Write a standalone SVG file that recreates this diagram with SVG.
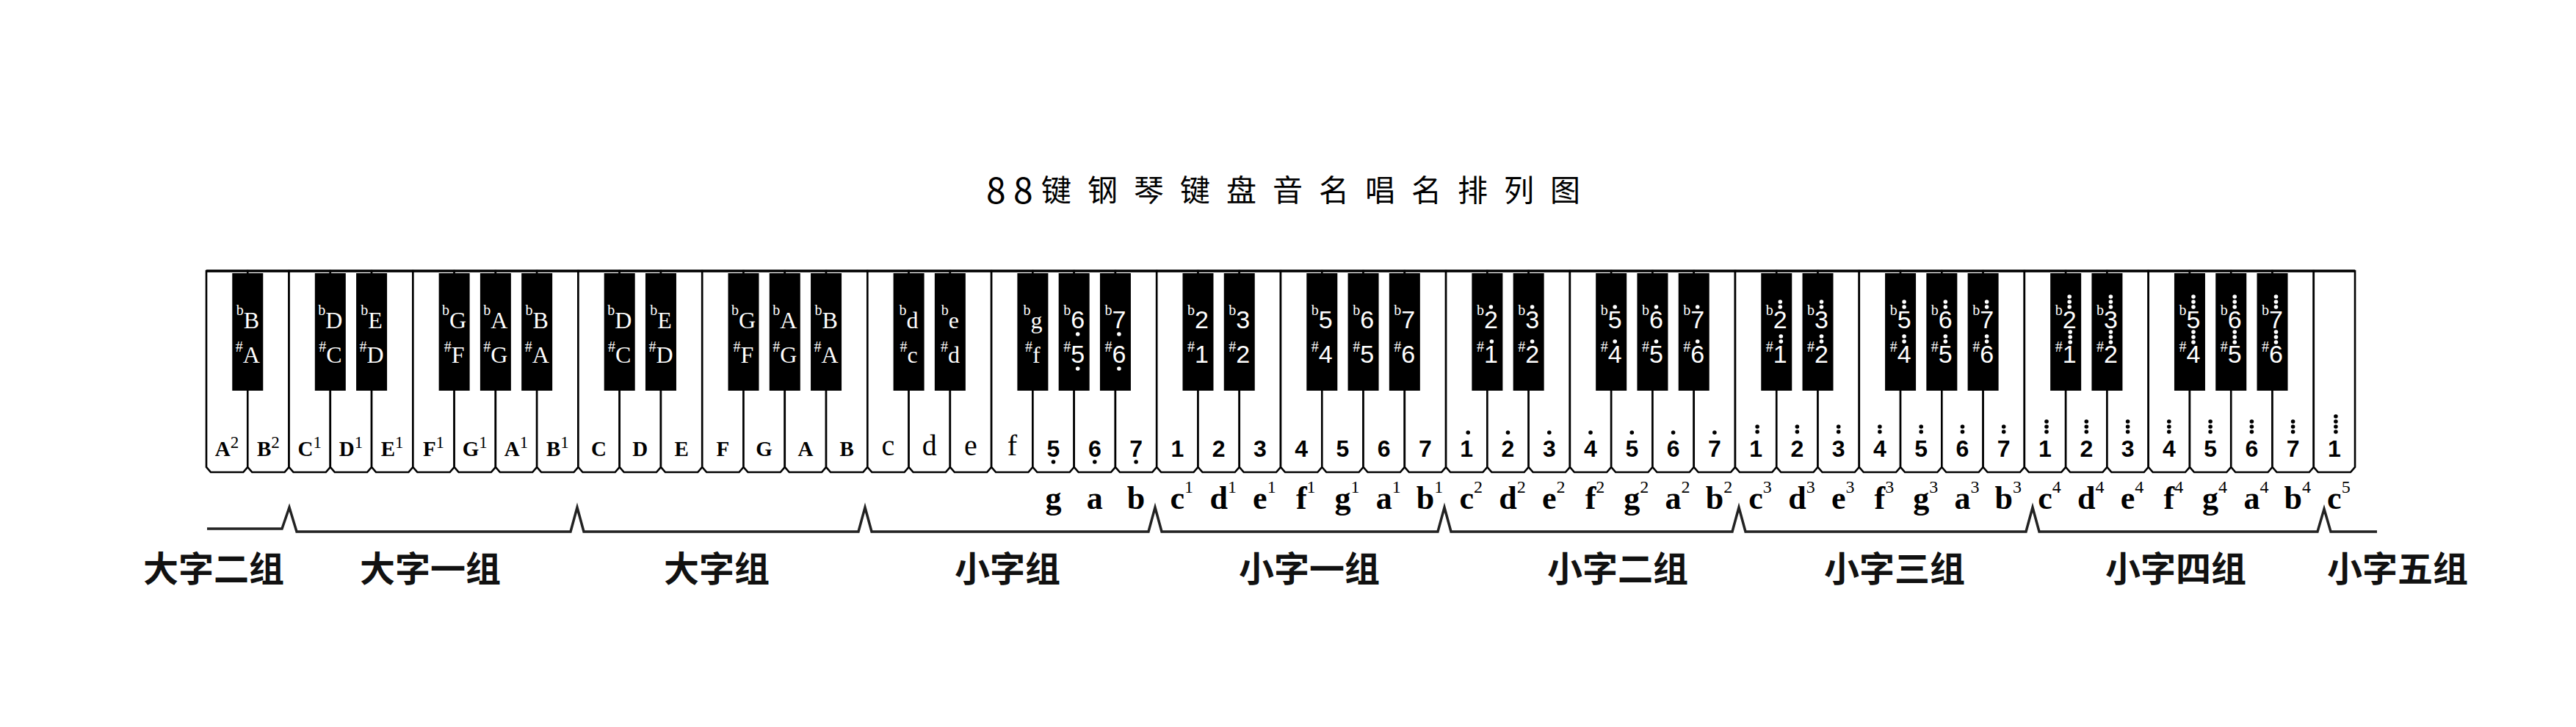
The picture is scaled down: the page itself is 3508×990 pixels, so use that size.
<svg xmlns="http://www.w3.org/2000/svg" xmlns:xlink="http://www.w3.org/1999/xlink" width="3508" height="990" viewBox="0 0 3508 990">
<style>
.wk{fill:#fff;stroke:#000;stroke-width:2.6;stroke-linejoin:miter}
.bk{fill:#000}
.wd{fill:#fff}
.kd{fill:#000}
.up{font-family:"Liberation Serif",serif;font-weight:bold;font-size:29px;text-anchor:middle;fill:#000}
.us{font-weight:normal;font-size:23px}
.lc{font-family:"Liberation Serif",serif;font-size:40px;text-anchor:middle;fill:#000}
.num{font-family:"Liberation Sans",sans-serif;font-weight:bold;font-size:32px;text-anchor:middle;fill:#000}
.bl{font-family:"Liberation Serif",serif;font-size:32px;text-anchor:middle;fill:#fff}
.bn{font-family:"Liberation Sans",sans-serif;font-size:34px;text-anchor:middle;fill:#fff}
.acc{font-family:"Liberation Serif",serif;font-size:20px}
.row{font-family:"Liberation Serif",serif;font-weight:bold;font-size:44px;fill:#000}
.rowm{font-family:"Liberation Serif",serif;font-weight:bold;font-size:44px;fill:#000;text-anchor:middle}
.sup{font-weight:normal;font-size:24px}
.grp{font-family:"Noto Sans CJK SC",sans-serif;font-weight:bold;font-size:48px;text-anchor:middle;fill:#111}
.title{font-family:"Noto Sans CJK SC",sans-serif;font-size:41px;fill:#000}
.br{fill:none;stroke:#222;stroke-width:3.5;stroke-linejoin:miter}
</style>
<defs>
<path id="wk" d="M0 369V636L6 643H50.27L56.27 636V369Z"/>
<rect id="bkr" x="-21" y="372" width="42" height="160"/>
<circle id="dt" r="2.8"/>
</defs>

<g id="title">
<text class="title" y="274"><tspan x="1343" y="277" style="font-size:48px">8</tspan><tspan x="1380" y="277" style="font-size:48px">8</tspan><tspan y="274" x="1418 1481 1544 1607 1670 1733 1796 1859 1922 1985 2048 2111">键钢琴键盘音名唱名排列图</tspan></text>
</g>

<g id="keyboard">
<g id="white-keys">
<use href="#wk" x="281" class="wk"/>
<use href="#wk" x="337.27" class="wk"/>
<use href="#wk" x="393.54" class="wk"/>
<use href="#wk" x="449.81" class="wk"/>
<use href="#wk" x="506.08" class="wk"/>
<use href="#wk" x="562.35" class="wk"/>
<use href="#wk" x="618.62" class="wk"/>
<use href="#wk" x="674.89" class="wk"/>
<use href="#wk" x="731.16" class="wk"/>
<use href="#wk" x="787.43" class="wk"/>
<use href="#wk" x="843.7" class="wk"/>
<use href="#wk" x="899.97" class="wk"/>
<use href="#wk" x="956.24" class="wk"/>
<use href="#wk" x="1012.51" class="wk"/>
<use href="#wk" x="1068.78" class="wk"/>
<use href="#wk" x="1125.05" class="wk"/>
<use href="#wk" x="1181.32" class="wk"/>
<use href="#wk" x="1237.59" class="wk"/>
<use href="#wk" x="1293.86" class="wk"/>
<use href="#wk" x="1350.13" class="wk"/>
<use href="#wk" x="1406.4" class="wk"/>
<use href="#wk" x="1462.67" class="wk"/>
<use href="#wk" x="1518.94" class="wk"/>
<use href="#wk" x="1575.21" class="wk"/>
<use href="#wk" x="1631.48" class="wk"/>
<use href="#wk" x="1687.75" class="wk"/>
<use href="#wk" x="1744.02" class="wk"/>
<use href="#wk" x="1800.29" class="wk"/>
<use href="#wk" x="1856.56" class="wk"/>
<use href="#wk" x="1912.83" class="wk"/>
<use href="#wk" x="1969.1" class="wk"/>
<use href="#wk" x="2025.37" class="wk"/>
<use href="#wk" x="2081.64" class="wk"/>
<use href="#wk" x="2137.91" class="wk"/>
<use href="#wk" x="2194.18" class="wk"/>
<use href="#wk" x="2250.45" class="wk"/>
<use href="#wk" x="2306.72" class="wk"/>
<use href="#wk" x="2362.99" class="wk"/>
<use href="#wk" x="2419.26" class="wk"/>
<use href="#wk" x="2475.53" class="wk"/>
<use href="#wk" x="2531.8" class="wk"/>
<use href="#wk" x="2588.07" class="wk"/>
<use href="#wk" x="2644.34" class="wk"/>
<use href="#wk" x="2700.61" class="wk"/>
<use href="#wk" x="2756.88" class="wk"/>
<use href="#wk" x="2813.15" class="wk"/>
<use href="#wk" x="2869.42" class="wk"/>
<use href="#wk" x="2925.69" class="wk"/>
<use href="#wk" x="2981.96" class="wk"/>
<use href="#wk" x="3038.23" class="wk"/>
<use href="#wk" x="3094.5" class="wk"/>
<use href="#wk" x="3150.77" class="wk"/>
<path d="M281 369H3207" stroke="#000" stroke-width="3.5"/>
</g>

<g id="black-keys">
<use href="#bkr" x="337.27" class="bk"/>
<use href="#bkr" x="449.81" class="bk"/>
<use href="#bkr" x="506.08" class="bk"/>
<use href="#bkr" x="618.62" class="bk"/>
<use href="#bkr" x="674.89" class="bk"/>
<use href="#bkr" x="731.16" class="bk"/>
<use href="#bkr" x="843.7" class="bk"/>
<use href="#bkr" x="899.97" class="bk"/>
<use href="#bkr" x="1012.51" class="bk"/>
<use href="#bkr" x="1068.78" class="bk"/>
<use href="#bkr" x="1125.05" class="bk"/>
<use href="#bkr" x="1237.59" class="bk"/>
<use href="#bkr" x="1293.86" class="bk"/>
<use href="#bkr" x="1406.4" class="bk"/>
<use href="#bkr" x="1462.67" class="bk"/>
<use href="#bkr" x="1518.94" class="bk"/>
<use href="#bkr" x="1631.48" class="bk"/>
<use href="#bkr" x="1687.75" class="bk"/>
<use href="#bkr" x="1800.29" class="bk"/>
<use href="#bkr" x="1856.56" class="bk"/>
<use href="#bkr" x="1912.83" class="bk"/>
<use href="#bkr" x="2025.37" class="bk"/>
<use href="#bkr" x="2081.64" class="bk"/>
<use href="#bkr" x="2194.18" class="bk"/>
<use href="#bkr" x="2250.45" class="bk"/>
<use href="#bkr" x="2306.72" class="bk"/>
<use href="#bkr" x="2419.26" class="bk"/>
<use href="#bkr" x="2475.53" class="bk"/>
<use href="#bkr" x="2588.07" class="bk"/>
<use href="#bkr" x="2644.34" class="bk"/>
<use href="#bkr" x="2700.61" class="bk"/>
<use href="#bkr" x="2813.15" class="bk"/>
<use href="#bkr" x="2869.42" class="bk"/>
<use href="#bkr" x="2981.96" class="bk"/>
<use href="#bkr" x="3038.23" class="bk"/>
<use href="#bkr" x="3094.5" class="bk"/>
</g>
</g>

<g id="white-key-labels">
<text class="up" x="309.1" y="621">A<tspan class="us" dy="-11">2</tspan></text>
<text class="up" x="365.4" y="621">B<tspan class="us" dy="-11">2</tspan></text>
<text class="up" x="421.7" y="621">C<tspan class="us" dy="-11">1</tspan></text>
<text class="up" x="477.9" y="621">D<tspan class="us" dy="-11">1</tspan></text>
<text class="up" x="534.2" y="621">E<tspan class="us" dy="-11">1</tspan></text>
<text class="up" x="590.5" y="621">F<tspan class="us" dy="-11">1</tspan></text>
<text class="up" x="646.8" y="621">G<tspan class="us" dy="-11">1</tspan></text>
<text class="up" x="703" y="621">A<tspan class="us" dy="-11">1</tspan></text>
<text class="up" x="759.3" y="621">B<tspan class="us" dy="-11">1</tspan></text>
<text class="up" x="815.6" y="621">C</text>
<text class="up" x="871.8" y="621">D</text>
<text class="up" x="928.1" y="621">E</text>
<text class="up" x="984.4" y="621">F</text>
<text class="up" x="1040.6" y="621">G</text>
<text class="up" x="1096.9" y="621">A</text>
<text class="up" x="1153.2" y="621">B</text>
<text class="lc" x="1209.5" y="620">c</text>
<text class="lc" x="1265.7" y="620">d</text>
<text class="lc" x="1322" y="620">e</text>
<text class="lc" x="1378.3" y="620">f</text>
<text class="num" x="1434.5" y="622">5</text>
<text class="num" x="1490.8" y="622">6</text>
<text class="num" x="1547.1" y="622">7</text>
<text class="num" x="1603.3" y="622">1</text>
<text class="num" x="1659.6" y="622">2</text>
<text class="num" x="1715.9" y="622">3</text>
<text class="num" x="1772.2" y="622">4</text>
<text class="num" x="1828.4" y="622">5</text>
<text class="num" x="1884.7" y="622">6</text>
<text class="num" x="1941" y="622">7</text>
<text class="num" x="1997.2" y="622">1</text>
<text class="num" x="2053.5" y="622">2</text>
<text class="num" x="2109.8" y="622">3</text>
<text class="num" x="2166" y="622">4</text>
<text class="num" x="2222.3" y="622">5</text>
<text class="num" x="2278.6" y="622">6</text>
<text class="num" x="2334.9" y="622">7</text>
<text class="num" x="2391.1" y="622">1</text>
<text class="num" x="2447.4" y="622">2</text>
<text class="num" x="2503.7" y="622">3</text>
<text class="num" x="2559.9" y="622">4</text>
<text class="num" x="2616.2" y="622">5</text>
<text class="num" x="2672.5" y="622">6</text>
<text class="num" x="2728.7" y="622">7</text>
<text class="num" x="2785" y="622">1</text>
<text class="num" x="2841.3" y="622">2</text>
<text class="num" x="2897.6" y="622">3</text>
<text class="num" x="2953.8" y="622">4</text>
<text class="num" x="3010.1" y="622">5</text>
<text class="num" x="3066.4" y="622">6</text>
<text class="num" x="3122.6" y="622">7</text>
<text class="num" x="3178.9" y="622">1</text>
</g>

<g id="white-key-dots" class="kd">
<use href="#dt" x="1434.5" y="629"/><use href="#dt" x="1490.8" y="629"/><use href="#dt" x="1547.1" y="629"/>
<use href="#dt" x="1999.2" y="589"/><use href="#dt" x="2053.5" y="589"/><use href="#dt" x="2109.8" y="589"/><use href="#dt" x="2166" y="589"/><use href="#dt" x="2222.3" y="589"/><use href="#dt" x="2278.6" y="589"/><use href="#dt" x="2334.9" y="589"/>
<use href="#dt" x="2393.1" y="581"/><use href="#dt" x="2393.1" y="588"/>
<use href="#dt" x="2447.4" y="581"/><use href="#dt" x="2447.4" y="588"/>
<use href="#dt" x="2503.7" y="581"/><use href="#dt" x="2503.7" y="588"/>
<use href="#dt" x="2559.9" y="581"/><use href="#dt" x="2559.9" y="588"/>
<use href="#dt" x="2616.2" y="581"/><use href="#dt" x="2616.2" y="588"/>
<use href="#dt" x="2672.5" y="581"/><use href="#dt" x="2672.5" y="588"/>
<use href="#dt" x="2728.7" y="581"/><use href="#dt" x="2728.7" y="588"/>
<use href="#dt" x="2787" y="574"/><use href="#dt" x="2787" y="581"/><use href="#dt" x="2787" y="588"/>
<use href="#dt" x="2841.3" y="574"/><use href="#dt" x="2841.3" y="581"/><use href="#dt" x="2841.3" y="588"/>
<use href="#dt" x="2897.6" y="574"/><use href="#dt" x="2897.6" y="581"/><use href="#dt" x="2897.6" y="588"/>
<use href="#dt" x="2953.8" y="574"/><use href="#dt" x="2953.8" y="581"/><use href="#dt" x="2953.8" y="588"/>
<use href="#dt" x="3010.1" y="574"/><use href="#dt" x="3010.1" y="581"/><use href="#dt" x="3010.1" y="588"/>
<use href="#dt" x="3066.4" y="574"/><use href="#dt" x="3066.4" y="581"/><use href="#dt" x="3066.4" y="588"/>
<use href="#dt" x="3122.6" y="574"/><use href="#dt" x="3122.6" y="581"/><use href="#dt" x="3122.6" y="588"/>
<use href="#dt" x="3180.9" y="567"/><use href="#dt" x="3180.9" y="574"/><use href="#dt" x="3180.9" y="581"/><use href="#dt" x="3180.9" y="588"/>
</g>

<g id="black-key-labels">
<text class="bl" x="337.3" y="447"><tspan class="acc" dy="-18">b</tspan><tspan dy="18">B</tspan></text>
<text class="bl" x="337.3" y="494"><tspan class="acc" dy="-15">#</tspan><tspan dy="15">A</tspan></text>
<text class="bl" x="449.8" y="447"><tspan class="acc" dy="-18">b</tspan><tspan dy="18">D</tspan></text>
<text class="bl" x="449.8" y="494"><tspan class="acc" dy="-15">#</tspan><tspan dy="15">C</tspan></text>
<text class="bl" x="506.1" y="447"><tspan class="acc" dy="-18">b</tspan><tspan dy="18">E</tspan></text>
<text class="bl" x="506.1" y="494"><tspan class="acc" dy="-15">#</tspan><tspan dy="15">D</tspan></text>
<text class="bl" x="618.6" y="447"><tspan class="acc" dy="-18">b</tspan><tspan dy="18">G</tspan></text>
<text class="bl" x="618.6" y="494"><tspan class="acc" dy="-15">#</tspan><tspan dy="15">F</tspan></text>
<text class="bl" x="674.9" y="447"><tspan class="acc" dy="-18">b</tspan><tspan dy="18">A</tspan></text>
<text class="bl" x="674.9" y="494"><tspan class="acc" dy="-15">#</tspan><tspan dy="15">G</tspan></text>
<text class="bl" x="731.2" y="447"><tspan class="acc" dy="-18">b</tspan><tspan dy="18">B</tspan></text>
<text class="bl" x="731.2" y="494"><tspan class="acc" dy="-15">#</tspan><tspan dy="15">A</tspan></text>
<text class="bl" x="843.7" y="447"><tspan class="acc" dy="-18">b</tspan><tspan dy="18">D</tspan></text>
<text class="bl" x="843.7" y="494"><tspan class="acc" dy="-15">#</tspan><tspan dy="15">C</tspan></text>
<text class="bl" x="900" y="447"><tspan class="acc" dy="-18">b</tspan><tspan dy="18">E</tspan></text>
<text class="bl" x="900" y="494"><tspan class="acc" dy="-15">#</tspan><tspan dy="15">D</tspan></text>
<text class="bl" x="1012.5" y="447"><tspan class="acc" dy="-18">b</tspan><tspan dy="18">G</tspan></text>
<text class="bl" x="1012.5" y="494"><tspan class="acc" dy="-15">#</tspan><tspan dy="15">F</tspan></text>
<text class="bl" x="1068.8" y="447"><tspan class="acc" dy="-18">b</tspan><tspan dy="18">A</tspan></text>
<text class="bl" x="1068.8" y="494"><tspan class="acc" dy="-15">#</tspan><tspan dy="15">G</tspan></text>
<text class="bl" x="1125.1" y="447"><tspan class="acc" dy="-18">b</tspan><tspan dy="18">B</tspan></text>
<text class="bl" x="1125.1" y="494"><tspan class="acc" dy="-15">#</tspan><tspan dy="15">A</tspan></text>
<text class="bl" x="1237.6" y="447"><tspan class="acc" dy="-18">b</tspan><tspan dy="18">d</tspan></text>
<text class="bl" x="1237.6" y="494"><tspan class="acc" dy="-15">#</tspan><tspan dy="15">c</tspan></text>
<text class="bl" x="1293.9" y="447"><tspan class="acc" dy="-18">b</tspan><tspan dy="18">e</tspan></text>
<text class="bl" x="1293.9" y="494"><tspan class="acc" dy="-15">#</tspan><tspan dy="15">d</tspan></text>
<text class="bl" x="1406.4" y="447"><tspan class="acc" dy="-18">b</tspan><tspan dy="18">g</tspan></text>
<text class="bl" x="1406.4" y="494"><tspan class="acc" dy="-15">#</tspan><tspan dy="15">f</tspan></text>
<text class="bn" x="1462.7" y="447"><tspan class="acc" dy="-18">b</tspan><tspan dy="18">6</tspan></text>
<text class="bn" x="1462.7" y="494"><tspan class="acc" dy="-15">#</tspan><tspan dy="15">5</tspan></text>
<text class="bn" x="1518.9" y="447"><tspan class="acc" dy="-18">b</tspan><tspan dy="18">7</tspan></text>
<text class="bn" x="1518.9" y="494"><tspan class="acc" dy="-15">#</tspan><tspan dy="15">6</tspan></text>
<text class="bn" x="1631.5" y="447"><tspan class="acc" dy="-18">b</tspan><tspan dy="18">2</tspan></text>
<text class="bn" x="1631.5" y="494"><tspan class="acc" dy="-15">#</tspan><tspan dy="15">1</tspan></text>
<text class="bn" x="1687.8" y="447"><tspan class="acc" dy="-18">b</tspan><tspan dy="18">3</tspan></text>
<text class="bn" x="1687.8" y="494"><tspan class="acc" dy="-15">#</tspan><tspan dy="15">2</tspan></text>
<text class="bn" x="1800.3" y="447"><tspan class="acc" dy="-18">b</tspan><tspan dy="18">5</tspan></text>
<text class="bn" x="1800.3" y="494"><tspan class="acc" dy="-15">#</tspan><tspan dy="15">4</tspan></text>
<text class="bn" x="1856.6" y="447"><tspan class="acc" dy="-18">b</tspan><tspan dy="18">6</tspan></text>
<text class="bn" x="1856.6" y="494"><tspan class="acc" dy="-15">#</tspan><tspan dy="15">5</tspan></text>
<text class="bn" x="1912.8" y="447"><tspan class="acc" dy="-18">b</tspan><tspan dy="18">7</tspan></text>
<text class="bn" x="1912.8" y="494"><tspan class="acc" dy="-15">#</tspan><tspan dy="15">6</tspan></text>
<text class="bn" x="2025.4" y="447"><tspan class="acc" dy="-18">b</tspan><tspan dy="18">2</tspan></text>
<text class="bn" x="2025.4" y="494"><tspan class="acc" dy="-15">#</tspan><tspan dy="15">1</tspan></text>
<text class="bn" x="2081.6" y="447"><tspan class="acc" dy="-18">b</tspan><tspan dy="18">3</tspan></text>
<text class="bn" x="2081.6" y="494"><tspan class="acc" dy="-15">#</tspan><tspan dy="15">2</tspan></text>
<text class="bn" x="2194.2" y="447"><tspan class="acc" dy="-18">b</tspan><tspan dy="18">5</tspan></text>
<text class="bn" x="2194.2" y="494"><tspan class="acc" dy="-15">#</tspan><tspan dy="15">4</tspan></text>
<text class="bn" x="2250.5" y="447"><tspan class="acc" dy="-18">b</tspan><tspan dy="18">6</tspan></text>
<text class="bn" x="2250.5" y="494"><tspan class="acc" dy="-15">#</tspan><tspan dy="15">5</tspan></text>
<text class="bn" x="2306.7" y="447"><tspan class="acc" dy="-18">b</tspan><tspan dy="18">7</tspan></text>
<text class="bn" x="2306.7" y="494"><tspan class="acc" dy="-15">#</tspan><tspan dy="15">6</tspan></text>
<text class="bn" x="2419.3" y="447"><tspan class="acc" dy="-18">b</tspan><tspan dy="18">2</tspan></text>
<text class="bn" x="2419.3" y="494"><tspan class="acc" dy="-15">#</tspan><tspan dy="15">1</tspan></text>
<text class="bn" x="2475.5" y="447"><tspan class="acc" dy="-18">b</tspan><tspan dy="18">3</tspan></text>
<text class="bn" x="2475.5" y="494"><tspan class="acc" dy="-15">#</tspan><tspan dy="15">2</tspan></text>
<text class="bn" x="2588.1" y="447"><tspan class="acc" dy="-18">b</tspan><tspan dy="18">5</tspan></text>
<text class="bn" x="2588.1" y="494"><tspan class="acc" dy="-15">#</tspan><tspan dy="15">4</tspan></text>
<text class="bn" x="2644.3" y="447"><tspan class="acc" dy="-18">b</tspan><tspan dy="18">6</tspan></text>
<text class="bn" x="2644.3" y="494"><tspan class="acc" dy="-15">#</tspan><tspan dy="15">5</tspan></text>
<text class="bn" x="2700.6" y="447"><tspan class="acc" dy="-18">b</tspan><tspan dy="18">7</tspan></text>
<text class="bn" x="2700.6" y="494"><tspan class="acc" dy="-15">#</tspan><tspan dy="15">6</tspan></text>
<text class="bn" x="2813.2" y="447"><tspan class="acc" dy="-18">b</tspan><tspan dy="18">2</tspan></text>
<text class="bn" x="2813.2" y="494"><tspan class="acc" dy="-15">#</tspan><tspan dy="15">1</tspan></text>
<text class="bn" x="2869.4" y="447"><tspan class="acc" dy="-18">b</tspan><tspan dy="18">3</tspan></text>
<text class="bn" x="2869.4" y="494"><tspan class="acc" dy="-15">#</tspan><tspan dy="15">2</tspan></text>
<text class="bn" x="2982" y="447"><tspan class="acc" dy="-18">b</tspan><tspan dy="18">5</tspan></text>
<text class="bn" x="2982" y="494"><tspan class="acc" dy="-15">#</tspan><tspan dy="15">4</tspan></text>
<text class="bn" x="3038.2" y="447"><tspan class="acc" dy="-18">b</tspan><tspan dy="18">6</tspan></text>
<text class="bn" x="3038.2" y="494"><tspan class="acc" dy="-15">#</tspan><tspan dy="15">5</tspan></text>
<text class="bn" x="3094.5" y="447"><tspan class="acc" dy="-18">b</tspan><tspan dy="18">7</tspan></text>
<text class="bn" x="3094.5" y="494"><tspan class="acc" dy="-15">#</tspan><tspan dy="15">6</tspan></text>
</g>

<g id="black-key-dots" class="wd">
<use href="#dt" x="1467.7" y="455"/><use href="#dt" x="1467.7" y="502"/>
<use href="#dt" x="1523.9" y="455"/><use href="#dt" x="1523.9" y="502"/>
<use href="#dt" x="2030.4" y="418"/><use href="#dt" x="2031.4" y="465"/>
<use href="#dt" x="2086.6" y="418"/><use href="#dt" x="2086.6" y="465"/>
<use href="#dt" x="2199.2" y="418"/><use href="#dt" x="2199.2" y="465"/>
<use href="#dt" x="2255.5" y="418"/><use href="#dt" x="2255.5" y="465"/>
<use href="#dt" x="2311.7" y="418"/><use href="#dt" x="2311.7" y="465"/>
<use href="#dt" x="2424.3" y="411"/><use href="#dt" x="2424.3" y="418"/><use href="#dt" x="2425.3" y="458"/><use href="#dt" x="2425.3" y="465"/>
<use href="#dt" x="2480.5" y="411"/><use href="#dt" x="2480.5" y="418"/><use href="#dt" x="2480.5" y="458"/><use href="#dt" x="2480.5" y="465"/>
<use href="#dt" x="2593.1" y="411"/><use href="#dt" x="2593.1" y="418"/><use href="#dt" x="2593.1" y="458"/><use href="#dt" x="2593.1" y="465"/>
<use href="#dt" x="2649.3" y="411"/><use href="#dt" x="2649.3" y="418"/><use href="#dt" x="2649.3" y="458"/><use href="#dt" x="2649.3" y="465"/>
<use href="#dt" x="2705.6" y="411"/><use href="#dt" x="2705.6" y="418"/><use href="#dt" x="2705.6" y="458"/><use href="#dt" x="2705.6" y="465"/>
<use href="#dt" x="2818.2" y="404"/><use href="#dt" x="2818.2" y="411"/><use href="#dt" x="2818.2" y="418"/><use href="#dt" x="2819.2" y="452"/><use href="#dt" x="2819.2" y="459"/><use href="#dt" x="2819.2" y="466"/>
<use href="#dt" x="2874.4" y="404"/><use href="#dt" x="2874.4" y="411"/><use href="#dt" x="2874.4" y="418"/><use href="#dt" x="2874.4" y="452"/><use href="#dt" x="2874.4" y="459"/><use href="#dt" x="2874.4" y="466"/>
<use href="#dt" x="2987" y="404"/><use href="#dt" x="2987" y="411"/><use href="#dt" x="2987" y="418"/><use href="#dt" x="2987" y="452"/><use href="#dt" x="2987" y="459"/><use href="#dt" x="2987" y="466"/>
<use href="#dt" x="3043.2" y="404"/><use href="#dt" x="3043.2" y="411"/><use href="#dt" x="3043.2" y="418"/><use href="#dt" x="3043.2" y="452"/><use href="#dt" x="3043.2" y="459"/><use href="#dt" x="3043.2" y="466"/>
<use href="#dt" x="3099.5" y="404"/><use href="#dt" x="3099.5" y="411"/><use href="#dt" x="3099.5" y="418"/><use href="#dt" x="3099.5" y="452"/><use href="#dt" x="3099.5" y="459"/><use href="#dt" x="3099.5" y="466"/>
</g>

<g id="pitch-names">
<text class="rowm" x="1434.5" y="693">g</text>
<text class="rowm" x="1490.8" y="693">a</text>
<text class="rowm" x="1547.1" y="693">b</text>
<text class="row" x="1593.5" y="693">c<tspan class="sup" dy="-22">1</tspan></text>
<text class="row" x="1647.4" y="693">d<tspan class="sup" dy="-22">1</tspan></text>
<text class="row" x="1706.1" y="693">e<tspan class="sup" dy="-22">1</tspan></text>
<text class="row" x="1764.9" y="693">f<tspan class="sup" dy="-22">1</tspan></text>
<text class="row" x="1817.4" y="693">g<tspan class="sup" dy="-22">1</tspan></text>
<text class="row" x="1873.7" y="693">a<tspan class="sup" dy="-22">1</tspan></text>
<text class="row" x="1928.8" y="693">b<tspan class="sup" dy="-22">1</tspan></text>
<text class="row" x="1987.4" y="693">c<tspan class="sup" dy="-22">2</tspan></text>
<text class="row" x="2041.3" y="693">d<tspan class="sup" dy="-22">2</tspan></text>
<text class="row" x="2100" y="693">e<tspan class="sup" dy="-22">2</tspan></text>
<text class="row" x="2158.7" y="693">f<tspan class="sup" dy="-22">2</tspan></text>
<text class="row" x="2211.3" y="693">g<tspan class="sup" dy="-22">2</tspan></text>
<text class="row" x="2267.6" y="693">a<tspan class="sup" dy="-22">2</tspan></text>
<text class="row" x="2322.7" y="693">b<tspan class="sup" dy="-22">2</tspan></text>
<text class="row" x="2381.3" y="693">c<tspan class="sup" dy="-22">3</tspan></text>
<text class="row" x="2435.2" y="693">d<tspan class="sup" dy="-22">3</tspan></text>
<text class="row" x="2493.9" y="693">e<tspan class="sup" dy="-22">3</tspan></text>
<text class="row" x="2552.6" y="693">f<tspan class="sup" dy="-22">3</tspan></text>
<text class="row" x="2605.2" y="693">g<tspan class="sup" dy="-22">3</tspan></text>
<text class="row" x="2661.5" y="693">a<tspan class="sup" dy="-22">3</tspan></text>
<text class="row" x="2716.5" y="693">b<tspan class="sup" dy="-22">3</tspan></text>
<text class="row" x="2775.2" y="693">c<tspan class="sup" dy="-22">4</tspan></text>
<text class="row" x="2829.1" y="693">d<tspan class="sup" dy="-22">4</tspan></text>
<text class="row" x="2887.8" y="693">e<tspan class="sup" dy="-22">4</tspan></text>
<text class="row" x="2946.5" y="693">f<tspan class="sup" dy="-22">4</tspan></text>
<text class="row" x="2999.1" y="693">g<tspan class="sup" dy="-22">4</tspan></text>
<text class="row" x="3055.4" y="693">a<tspan class="sup" dy="-22">4</tspan></text>
<text class="row" x="3110.4" y="693">b<tspan class="sup" dy="-22">4</tspan></text>
<text class="row" x="3169.1" y="693">c<tspan class="sup" dy="-22">5</tspan></text>
</g>

<g id="connectors">
<polyline class="br" points="282,720 384,720 394,691 404,724 777,724 786,691 795,724 1169,724 1178,691 1187,724 1564,724 1573,691 1582,724 1958,724 1967,691 1976,724 2359,724 2368,691 2377,724 2759,724 2768,691 2777,724 3156,724 3165,693 3174,724 3237,724"/>
</g>

<g id="group-labels">
<g id="g-dazi2"><text class="grp" x="291" y="792">大字二组</text></g>
<g id="g-dazi1"><text class="grp" x="586" y="792">大字一组</text></g>
<g id="g-dazi"><text class="grp" x="976" y="792">大字组</text></g>
<g id="g-xiaozi"><text class="grp" x="1372" y="792">小字组</text></g>
<g id="g-xiaozi1"><text class="grp" x="1783" y="792">小字一组</text></g>
<g id="g-xiaozi2"><text class="grp" x="2203" y="792">小字二组</text></g>
<g id="g-xiaozi3"><text class="grp" x="2580" y="792">小字三组</text></g>
<g id="g-xiaozi4"><text class="grp" x="2963" y="792">小字四组</text></g>
<g id="g-xiaozi5"><text class="grp" x="3265" y="792">小字五组</text></g>
</g>
</svg>
